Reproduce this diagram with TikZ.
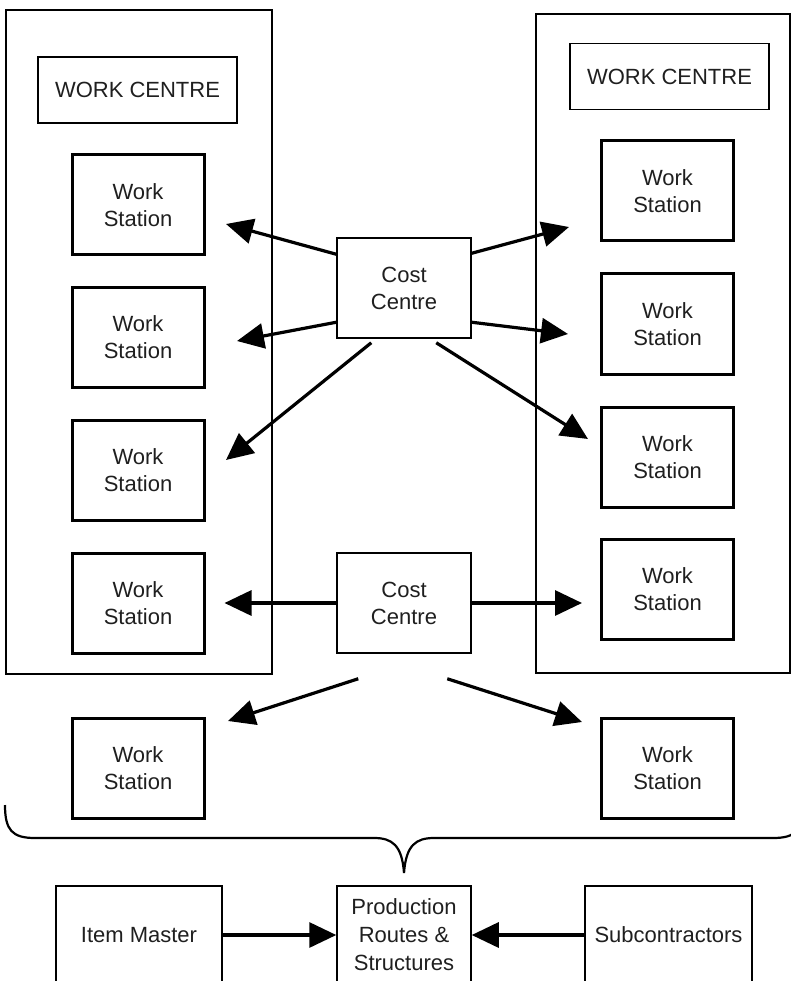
\documentclass[tikz,border=0pt]{standalone}
\usepackage{fontspec}
\setmainfont{Liberation Sans}
\usetikzlibrary{arrows.meta}
\begin{document}
\begin{tikzpicture}[x=1pt,y=-1pt,
  every node/.style={inner sep=0pt, align=center, text=black!88,
    font=\fontsize{22}{27}\selectfont},
  outerbox/.style={draw, line width=1.5pt},
  wclabel/.style={draw, line width=1.5pt, minimum width=199pt, minimum height=66pt},
  wsbox/.style={draw, line width=3pt, minimum width=132pt, minimum height=100pt},
  ccbox/.style={draw, line width=1.5pt, minimum width=134pt, minimum height=100pt},
  basebox/.style={draw, line width=1.5pt, minimum height=98pt},
  link/.style={line width=3.2pt, -{Triangle[length=27pt,width=25pt]}},
  bracepath/.style={line width=2.2pt}
]
\useasboundingbox (0,0) rectangle (791,981);
\clip (0,0) rectangle (791,981);

% work centre containers
\node[outerbox, minimum width=266pt, minimum height=664pt] (lwc) at (139,342) {};
\node[outerbox, minimum width=254pt, minimum height=659pt] (rwc) at (663,343.5) {};
\node[wclabel] (lwctitle) at (137.5,90) {WORK CENTRE};
\node[wclabel] (rwctitle) at (669.5,76.5) {WORK CENTRE};

% work stations, left centre
\node[wsbox] (wsl1) at (138,205) {Work\\Station};
\node[wsbox] (wsl2) at (138,337.5) {Work\\Station};
\node[wsbox] (wsl3) at (138,470) {Work\\Station};
\node[wsbox] (wsl4) at (138,603) {Work\\Station};

% work stations, right centre
\node[wsbox] (wsr1) at (667.5,191) {Work\\Station};
\node[wsbox] (wsr2) at (667.5,324) {Work\\Station};
\node[wsbox] (wsr3) at (667.5,457) {Work\\Station};
\node[wsbox] (wsr4) at (667.5,589) {Work\\Station};

% stand-alone work stations
\node[wsbox] (wsb1) at (138,768) {Work\\Station};
\node[wsbox] (wsb2) at (667.5,768) {Work\\Station};

% cost centres
\node[ccbox] (cc1) at (404,288) {Cost\\Centre};
\node[ccbox] (cc2) at (404,603) {Cost\\Centre};

% bottom row
\node[basebox, minimum width=166pt] (item) at (139,935) {Item Master};
\node[basebox, minimum width=134pt, font=\fontsize{22}{28}\selectfont] (prod) at (404,935)
  {Production\\Routes \&\\Structures};
\node[basebox, minimum width=167pt] (sub) at (668.5,935) {Subcontractors};

% arrow tips
\coordinate (t1) at (226,224);
\coordinate (t2) at (237,341);
\coordinate (t3) at (226,460);
\coordinate (t4) at (569,227);
\coordinate (t5) at (568,334);
\coordinate (t6) at (588,439);
\coordinate (t7) at (228,721);
\coordinate (t8) at (582,722);

% cost centre 1 links
\draw[link] ([yshift=-17pt]cc1.north west) -- (t1);
\draw[link] ([yshift=-85pt]cc1.north west) -- (t2);
\draw[link] ([xshift=35pt,yshift=-4pt]cc1.south west) -- (t3);
\draw[link] ([yshift=-16pt]cc1.north east) -- (t4);
\draw[link] ([yshift=-85pt]cc1.north east) -- (t5);
\draw[link] ([xshift=100pt,yshift=-4pt]cc1.south west) -- (t6);

% cost centre 2 links
\draw[link, shorten >=19pt] (cc2.west) -- (wsl4.east);
\draw[link, shorten >=18pt] (cc2.east) -- (cc2.east -| wsr4.west);
\draw[link] ([xshift=22pt,yshift=-25pt]cc2.south west) -- (t7);
\draw[link] ([xshift=111pt,yshift=-25pt]cc2.south west) -- (t8);

% inputs to production routes
\draw[link] (item.east) -- (prod.west);
\draw[link] (sub.west) -- (prod.east);

% grouping brace
\draw[bracepath] (5,805) .. controls (5,830) and (12,838) .. (35,838)
  -- (374,838) .. controls (392,838) and (402,845) .. (404,873)
  .. controls (406,845) and (416,838) .. (434,838)
  -- (773,838) .. controls (796,838) and (803,830) .. (803,805);
\end{tikzpicture}
\end{document}
